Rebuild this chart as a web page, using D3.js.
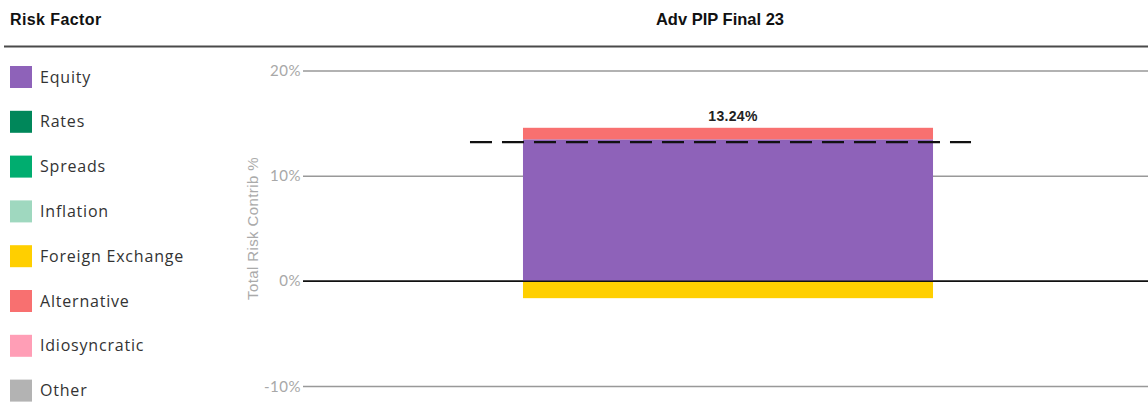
<!DOCTYPE html>
<html>
<head>
<meta charset="utf-8">
<script src="https://cdnjs.cloudflare.com/ajax/libs/d3/7.8.5/d3.min.js"></script>
<style>
  body { margin: 0; background: #fff; }
  svg { display: block; }
</style>
</head>
<body>
<script>
// risk factors + their colours (legend order)
var factors = ["Equity", "Rates", "Spreads", "Inflation", "Foreign Exchange", "Alternative", "Idiosyncratic", "Other"];
var factorColors = ["#8e62b9", "#00875a", "#00ad6f", "#9fd8bf", "#ffcf00", "#f87070", "#ff9eb6", "#b3b3b3"];

// one portfolio, contribution per factor (%)
var portfolios = ["Adv PIP Final 23"];
var contribs = [13.5, 0, 0, 0, -1.6, 1.1, 0, 0];
var totals = [13.24];

var yTicks = [-10, 0, 10, 20];

var width = 1148, height = 406;

var svg = d3.select("body").append("svg")
    .attr("width", width)
    .attr("height", height);

// header
svg.append("text")
    .attr("x", 10).attr("y", 25)
    .style("font-family", "Liberation Sans, Arial, sans-serif")
    .style("font-weight", "bold")
    .style("font-size", "16px")
    .style("letter-spacing", "0.4px")
    .style("fill", "#111")
    .text("Risk Factor");

svg.append("text")
    .attr("x", 720).attr("y", 25)
    .attr("text-anchor", "middle")
    .style("font-family", "Liberation Sans, Arial, sans-serif")
    .style("font-weight", "bold")
    .style("font-size", "16.5px")
    .style("fill", "#111")
    .text(portfolios[0]);

svg.append("line")
    .attr("x1", 4).attr("x2", width)
    .attr("y1", 46.5).attr("y2", 46.5)
    .style("stroke", "#4a4a4a")
    .style("stroke-width", 2);

// legend
var legend = svg.append("g").attr("class", "legend")
  .selectAll("g")
    .data(factors)
  .enter().append("g")
    .attr("transform", function(d, i) { return "translate(10," + (77 + i * 44.8) + ")"; });

legend.append("rect")
    .attr("x", 0).attr("y", -11)
    .attr("width", 22).attr("height", 22)
    .style("fill", function(d, i) { return factorColors[i]; });

legend.append("text")
    .attr("x", 30).attr("y", 5.5)
    .style("font-family", "Open Sans, sans-serif")
    .style("font-size", "16px")
    .style("letter-spacing", "0.8px")
    .style("fill", "#333")
    .text(function(d) { return d; });

// scales
var y = d3.scaleLinear()
    .domain([-10, 20])
    .range([386.5, 71]);

var x = d3.scaleBand()
    .domain(portfolios)
    .range([318, 1138])
    .padding(0.3333);

// grid lines + tick labels
var grid = svg.append("g").attr("class", "grid")
  .selectAll("g")
    .data(yTicks)
  .enter().append("g");

grid.append("line")
    .attr("x1", 303).attr("x2", width)
    .attr("y1", function(d) { return y(d); })
    .attr("y2", function(d) { return y(d); })
    .style("stroke", function(d) { return d === 0 ? "#111" : "#999"; })
    .style("stroke-width", 1.5);

grid.append("text")
    .attr("x", 301)
    .attr("y", function(d) { return y(d) + 5; })
    .attr("text-anchor", "end")
    .style("font-family", "Lato, sans-serif")
    .style("font-size", "15px")
    .style("letter-spacing", "0.5px")
    .style("fill", "#a8a8a8")
    .text(function(d) { return d + "%"; });

// axis title
svg.append("text")
    .attr("transform", "translate(258,228.5) rotate(-90)")
    .attr("text-anchor", "middle")
    .style("font-family", "Liberation Sans, Arial, sans-serif")
    .style("font-size", "15px")
    .style("letter-spacing", "0.4px")
    .style("fill", "#aaa")
    .text("Total Risk Contrib %");

// stacked bars
var rows = portfolios.map(function(p, j) {
  var row = { name: p };
  factors.forEach(function(f, i) { row[f] = contribs[i]; });
  return row;
});

var series = d3.stack()
    .keys(factors)
    .offset(d3.stackOffsetDiverging)(rows);

svg.append("g").attr("class", "bars")
  .selectAll("g")
    .data(series)
  .enter().append("g")
    .style("fill", function(d, i) { return factorColors[i]; })
  .selectAll("rect")
    .data(function(d) { return d; })
  .enter().append("rect")
    .attr("x", function(d) { return x(d.data.name); })
    .attr("width", x.bandwidth())
    .attr("y", function(d) { return y(Math.max(d[0], d[1])); })
    .attr("height", function(d) { return Math.abs(y(d[0]) - y(d[1])); });

// redraw zero line over the bars
svg.append("line")
    .attr("x1", 303).attr("x2", width)
    .attr("y1", y(0)).attr("y2", y(0))
    .style("stroke", "#111")
    .style("stroke-width", 1.5);

// total marker (dashed) + label
svg.append("g").attr("class", "totals")
  .selectAll("line")
    .data(totals)
  .enter().append("line")
    .attr("x1", function(d, j) { return x(portfolios[j]) - 53; })
    .attr("x2", function(d, j) { return x(portfolios[j]) + x.bandwidth() + 38; })
    .attr("y1", function(d) { return y(d); })
    .attr("y2", function(d) { return y(d); })
    .style("stroke", "#111")
    .style("stroke-width", 2.2)
    .style("stroke-dasharray", "22,10");

svg.select(".totals").selectAll("text")
    .data(totals)
  .enter().append("text")
    .attr("x", function(d, j) { return x(portfolios[j]) + x.bandwidth() / 2 + 5; })
    .attr("y", 121)
    .attr("text-anchor", "middle")
    .style("font-family", "Liberation Sans, Arial, sans-serif")
    .style("font-weight", "bold")
    .style("font-size", "14px")
    .style("letter-spacing", "0.3px")
    .style("fill", "#222")
    .text(function(d) { return d.toFixed(2) + "%"; });
</script>
</body>
</html>
